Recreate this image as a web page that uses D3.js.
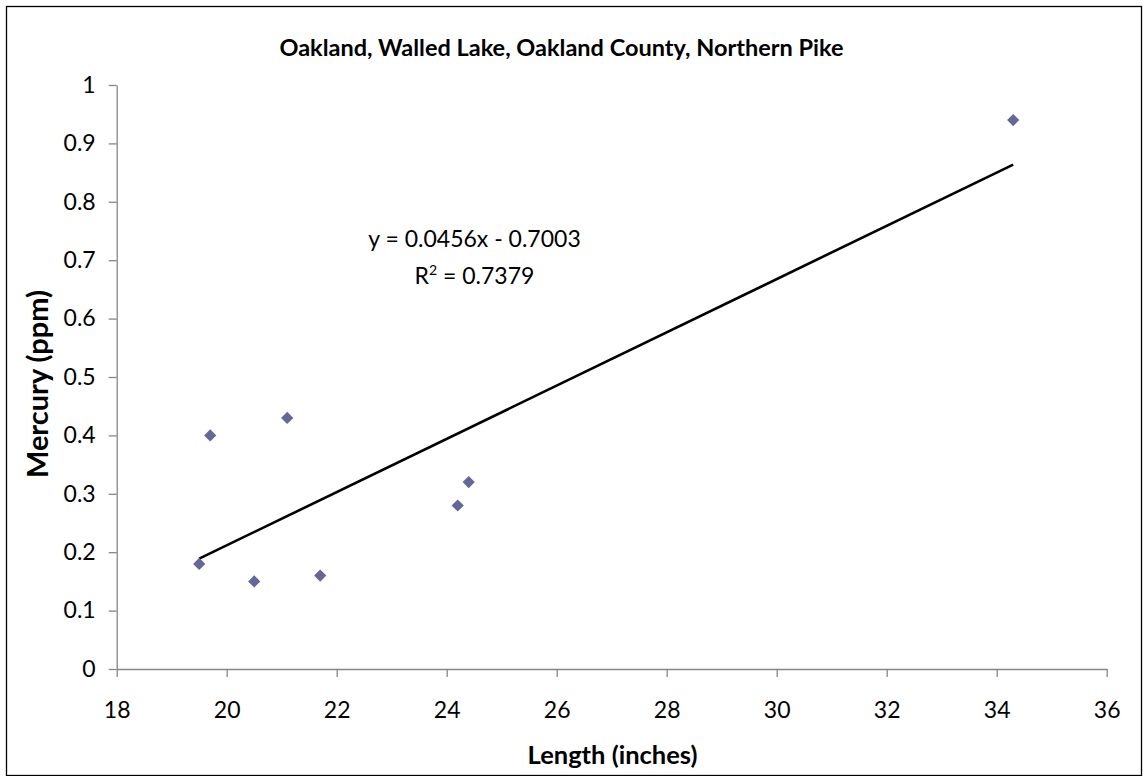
<!DOCTYPE html>
<html><head><meta charset="utf-8">
<script src="https://cdn.jsdelivr.net/npm/d3@7"></script>
<style>body{margin:0;background:#fff}svg{display:block}</style>
</head><body>
<script>
const lengths = [19.5, 19.7, 20.5, 21.1, 21.7, 24.2, 24.4, 34.3];
const mercury = [0.18, 0.40, 0.15, 0.43, 0.16, 0.28, 0.32, 0.94];
const xTicks = [18, 20, 22, 24, 26, 28, 30, 32, 34, 36];
const yTicks = [0, 0.1, 0.2, 0.3, 0.4, 0.5, 0.6, 0.7, 0.8, 0.9, 1];
const slope = 0.0456, intercept = -0.7003;
const trendRange = [19.5, 34.3];
const title = "Oakland, Walled Lake, Oakland County, Northern Pike";

const W = 1143, H = 776;
const svg = d3.select("body").append("svg").attr("width", W).attr("height", H);
const font = "Lato, 'Open Sans', sans-serif";
svg.append("rect").attr("x", 6.5).attr("y", 6.5).attr("width", W - 8).attr("height", H - 7)
  .attr("fill", "#fff").attr("stroke", "#000").attr("stroke-width", 1.3);

const x = d3.scaleLinear().domain([18, 36]).range([116.7, 1106.7]);
const y = d3.scaleLinear().domain([0, 1]).range([669, 85]);

const xAxis = svg.append("g").attr("transform", `translate(0,${y(0)})`)
  .call(d3.axisBottom(x).tickValues(xTicks).tickSize(8).tickSizeOuter(0).tickPadding(25));
const yAxis = svg.append("g").attr("transform", `translate(${x(18)},0)`)
  .call(d3.axisLeft(y).tickValues(yTicks).tickSize(8).tickSizeOuter(0).tickPadding(13).tickFormat(d => String(d)));
[xAxis, yAxis].forEach(a => {
  a.selectAll("path,line").attr("stroke", "#868686").attr("stroke-width", 1.3);
  a.selectAll("text").attr("font-family", font).attr("font-size", 23).attr("fill", "#000");
});

svg.append("line")
  .attr("x1", x(trendRange[0])).attr("y1", y(slope * trendRange[0] + intercept))
  .attr("x2", x(trendRange[1])).attr("y2", y(slope * trendRange[1] + intercept))
  .attr("stroke", "#000").attr("stroke-width", 2.6);

const diamond = d3.symbol().type(d3.symbolDiamond2).size(95);
svg.selectAll(".pt").data(lengths.map((l, i) => [l, mercury[i]])).enter().append("path")
  .attr("d", diamond)
  .attr("transform", d => `translate(${x(d[0])},${y(d[1])})`)
  .attr("fill", "#666699");

svg.append("text").attr("x", 561.5).attr("y", 56).attr("text-anchor", "middle")
  .attr("font-family", font).attr("font-weight", "bold").attr("font-size", 23.5).text(title);

svg.append("text").attr("x", 474.5).attr("y", 247).attr("text-anchor", "middle")
  .attr("font-family", font).attr("font-size", 23).text("y = 0.0456x - 0.7003");
const r2 = svg.append("text").attr("x", 474.5).attr("y", 284).attr("text-anchor", "middle")
  .attr("font-family", font).attr("font-size", 23);
r2.append("tspan").text("R");
r2.append("tspan").attr("dy", -9).attr("font-size", 14).text("2");
r2.append("tspan").attr("dy", 9).text(" = 0.7379");

svg.append("text").attr("x", 612.5).attr("y", 764).attr("text-anchor", "middle")
  .attr("font-family", font).attr("font-weight", "bold").attr("font-size", 25.5).text("Length (inches)");
svg.append("text").attr("transform", "translate(48,384) rotate(-90)").attr("text-anchor", "middle")
  .attr("font-family", font).attr("font-weight", "bold").attr("font-size", 29).text("Mercury (ppm)");
</script>
</body></html>
